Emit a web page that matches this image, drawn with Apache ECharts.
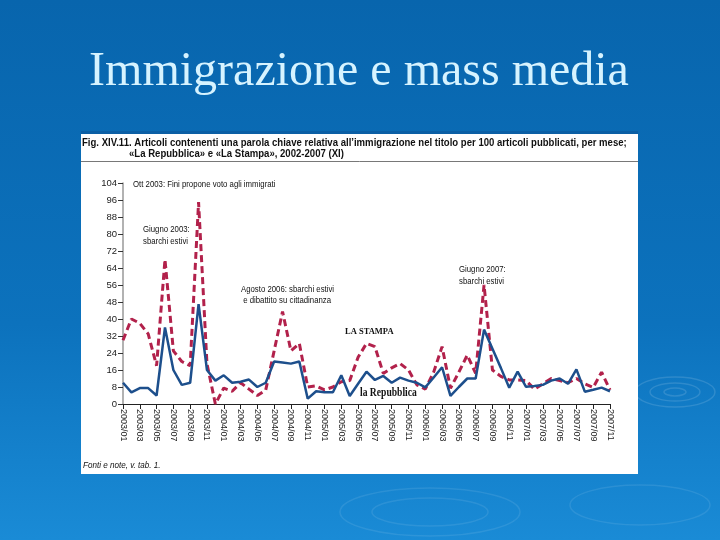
<!DOCTYPE html>
<html>
<head>
<meta charset="utf-8">
<script src="https://cdn.jsdelivr.net/npm/echarts@6/dist/echarts.min.js"></script>
<style>
html,body{margin:0;padding:0;width:720px;height:540px;overflow:hidden;}
#c{width:720px;height:540px;}
</style>
</head>
<body>
<div id="c"></div>
<script>
// Months 2003/01 .. 2007/11
const months = [];
for (let y = 2003; y <= 2007; y++) {
  for (let m = 1; m <= 12; m++) {
    if (y === 2007 && m > 11) break;
    months.push(y + '/' + (m < 10 ? '0' + m : m));
  }
}
const yTicks = [0, 8, 16, 24, 32, 40, 48, 56, 64, 72, 80, 88, 96, 104];

// La Repubblica (solid blue)
const repubblica = [
  10, 5.5, 7.5, 7.5, 4, 36, 16, 9, 10, 47,
  16, 11, 13.5, 10, 10.5, 11.5, 8, 10, 20, 19.5,
  19, 20, 2.5, 6, 5.5, 5.5, 13.5, 3.8, 9.5, 15.2,
  11.3, 13.2, 10, 12.4, 11, 10, 7.8, 12.5, 17.3, 3.8,
  8, 12, 12, 35, 26, 17, 7.7, 15.2, 8.1, 8.5,
  9, 11, 12, 9.5, 16.3, 5.8, 6.7, 7.7, 6
];
// La Stampa (dashed red)
const stampa = [
  30, 40, 38, 33, 18, 68, 25, 20, 18, 95,
  19, 0, 7.5, 6, 10, 7, 4, 6.6, 25, 43.5,
  25, 28.5, 8, 8.5, 6.6, 8, 10.5, 11, 22, 28.5,
  27, 14.4, 17, 19, 16, 9, 7, 15, 27, 7.4,
  15, 23, 14.4, 56, 16, 13, 11.3, 11.3, 11, 7,
  9.5, 12, 11, 10, 12, 9.5, 7.8, 15, 6.6
];

const chart = echarts.init(document.getElementById('c'), null, {renderer: 'canvas'});
const sans = '"Liberation Sans", Arial, sans-serif';
const serif = '"Liberation Serif", "Times New Roman", serif';

function txt(x, y, text, font, sx, extra) {
  return Object.assign({type: 'text', x: x, y: y, scaleX: sx, z: 3,
    style: {text: text, fill: '#111', font: font, textVerticalAlign: 'top'}}, extra || {});
}

chart.setOption({
  animation: false,
  backgroundColor: {
    type: 'linear', x: 0, y: 0, x2: 0, y2: 1,
    colorStops: [{offset: 0, color: '#0865ad'}, {offset: 0.6, color: '#0c72bd'}, {offset: 1, color: '#1a8bd6'}]
  },
  graphic: [
    // decorative ripples
    {type: 'ellipse', shape: {cx: 675, cy: 392, rx: 40, ry: 15}, style: {fill: 'none', stroke: 'rgba(255,255,255,0.13)', lineWidth: 1.5}, z: 0},
    {type: 'ellipse', shape: {cx: 675, cy: 392, rx: 25, ry: 9}, style: {fill: 'none', stroke: 'rgba(255,255,255,0.13)', lineWidth: 1.5}, z: 0},
    {type: 'ellipse', shape: {cx: 675, cy: 392, rx: 11, ry: 4}, style: {fill: 'none', stroke: 'rgba(255,255,255,0.13)', lineWidth: 1.5}, z: 0},
    {type: 'ellipse', shape: {cx: 430, cy: 512, rx: 90, ry: 24}, style: {fill: 'none', stroke: 'rgba(255,255,255,0.09)', lineWidth: 1.5}, z: 0},
    {type: 'ellipse', shape: {cx: 430, cy: 512, rx: 58, ry: 14}, style: {fill: 'none', stroke: 'rgba(255,255,255,0.09)', lineWidth: 1.5}, z: 0},
    {type: 'ellipse', shape: {cx: 640, cy: 505, rx: 70, ry: 20}, style: {fill: 'none', stroke: 'rgba(255,255,255,0.09)', lineWidth: 1.5}, z: 0},
    // slide title
    {type: 'text', x: 359, y: 48, z: 5,
     style: {text: 'Immigrazione e mass media', fill: '#d6f3ff', font: '48px ' + serif, textAlign: 'center', textVerticalAlign: 'top'}},
    // white figure box
    {type: 'rect', shape: {x: 81, y: 131, width: 557, height: 343}, style: {fill: '#ffffff'}, z: 1},
    {type: 'rect', shape: {x: 81, y: 131, width: 557, height: 3}, style: {fill: '#0b5fa5'}, z: 2},
    {type: 'line', shape: {x1: 81, y1: 161.5, x2: 638, y2: 161.5}, style: {stroke: '#555', lineWidth: 0.8}, z: 2},
    txt(82, 137, 'Fig. XIV.11. Articoli contenenti una parola chiave relativa all\u2019immigrazione nel titolo per 100 articoli pubblicati, per mese;', 'bold 11px ' + sans, 0.87),
    txt(129, 148, '\u00abLa Repubblica\u00bb e \u00abLa Stampa\u00bb, 2002-2007 (XI)', 'bold 11px ' + sans, 0.87),
    // annotations
    txt(133, 179, 'Ott 2003: Fini propone voto agli immigrati', '9.5px ' + sans, 0.82),
    txt(143, 223, 'Giugno 2003:\nsbarchi estivi', '9.5px ' + sans, 0.82, {style: {text: 'Giugno 2003:\nsbarchi estivi', fill: '#111', font: '9.5px ' + sans, textVerticalAlign: 'top', lineHeight: 12}}),
    txt(241, 284, 'Agosto 2006: sbarchi estivi\n e dibattito su cittadinanza', '9.5px ' + sans, 0.82, {style: {text: 'Agosto 2006: sbarchi estivi\n e dibattito su cittadinanza', fill: '#111', font: '9.5px ' + sans, textVerticalAlign: 'top', lineHeight: 11}}),
    txt(459, 263, 'Giugno 2007:\nsbarchi estivi', '9.5px ' + sans, 0.82, {style: {text: 'Giugno 2007:\nsbarchi estivi', fill: '#111', font: '9.5px ' + sans, textVerticalAlign: 'top', lineHeight: 12}}),
    txt(345, 327, 'LA STAMPA', 'bold 8.5px ' + serif, 1),
    txt(360, 387, 'la Repubblica', 'bold 12px ' + serif, 0.8),
    txt(83, 460, 'Fonti e note, v. tab. 1.', 'italic 9.5px ' + sans, 0.85)
  ],
  grid: {left: 123, right: 110, top: 183, bottom: 136, containLabel: false},
  xAxis: {
    type: 'category',
    data: months,
    boundaryGap: false,
    axisLine: {show: true, lineStyle: {color: '#222', width: 1}},
    axisTick: {show: true, interval: 1, length: 5, lineStyle: {color: '#222'}},
    axisLabel: {interval: 1, rotate: -90, fontSize: 9, color: '#222', fontFamily: sans, margin: 5},
    splitLine: {show: false},
    z: 4
  },
  yAxis: {
    type: 'value',
    min: 0, max: 104, interval: 8,
    axisLine: {show: true, lineStyle: {color: '#999', width: 1.5}},
    axisTick: {show: true, length: 5, lineStyle: {color: '#333'}},
    axisLabel: {fontSize: 9.5, color: '#222', fontFamily: sans, margin: 6,
      formatter: v => yTicks.indexOf(v) >= 0 ? String(v) : ''},
    splitLine: {show: false},
    z: 4
  },
  series: [
    {name: 'La Stampa', type: 'line', data: stampa, symbol: 'none', z: 5,
     lineStyle: {color: '#b2214b', width: 3, type: [7, 4]}},
    {name: 'La Repubblica', type: 'line', data: repubblica, symbol: 'none', z: 6,
     lineStyle: {color: '#1d4f8c', width: 2.5}}
  ]
});
</script>
</body>
</html>
